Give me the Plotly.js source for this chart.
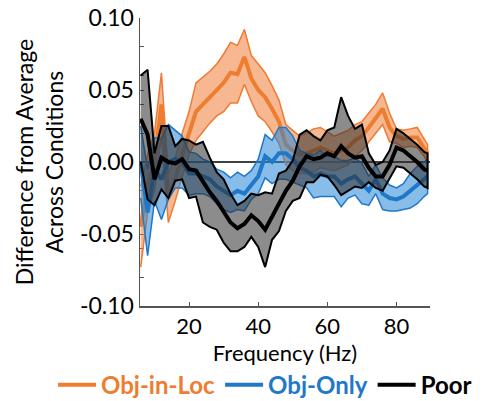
<!DOCTYPE html>
<html>
<head>
<meta charset="utf-8">
<script src="https://cdn.plot.ly/plotly-3.0.1.min.js"></script>
<style>
  html, body { margin: 0; padding: 0; background: #fff; }
  #chart { width: 499px; height: 401px; }
</style>
</head>
<body>
<div id="chart"></div>
<script>
// Frequency bins (Hz)
const freq = [6, 8, 10, 12, 14, 16, 18, 20, 22, 24, 26, 28, 30, 32, 34, 36, 38, 40, 42, 44,
              46, 48, 50, 52, 54, 56, 58, 60, 62, 64, 66, 68, 70, 72, 74, 76, 78, 80, 82, 84,
              86, 88, 89];

// Obj-in-Loc: mean difference and SEM
const objInLocMean = [-0.045, -0.015, 0.000, 0.040, -0.025, -0.012, 0.005, 0.020, 0.035, 0.040,
                      0.045, 0.050, 0.055, 0.062, 0.061, 0.073, 0.058, 0.050, 0.045, 0.037,
                      0.028, 0.012, 0.008, 0.005, 0.006, 0.008, 0.010, 0.008, 0.006, 0.008,
                      0.010, 0.015, 0.018, 0.024, 0.030, 0.037, 0.024, 0.018, 0.016, 0.017,
                      0.017, 0.010, 0.006];
const objInLocSem  = [0.028, 0.020, 0.020, 0.022, 0.017, 0.015, 0.015, 0.015, 0.020, 0.019,
                      0.018, 0.018, 0.020, 0.021, 0.020, 0.019, 0.016, 0.018, 0.017, 0.016,
                      0.015, 0.014, 0.014, 0.013, 0.014, 0.015, 0.014, 0.013, 0.012, 0.012,
                      0.012, 0.011, 0.010, 0.010, 0.010, 0.011, 0.010, 0.005, 0.006, 0.006,
                      0.007, 0.006, 0.006];

// Obj-Only: mean difference and SEM
const objOnlyMean = [0.000, -0.035, -0.005, -0.012, 0.000, 0.002, 0.000, -0.008, -0.008, -0.010,
                     -0.012, -0.017, -0.020, -0.023, -0.020, -0.022, -0.016, -0.010, 0.004, 0.000,
                     0.006, 0.006, 0.002, -0.004, -0.006, -0.010, -0.008, -0.010, -0.010, -0.015,
                     -0.012, -0.010, -0.015, -0.020, -0.012, -0.022, -0.025, -0.026, -0.024, -0.020,
                     -0.016, -0.012, -0.010];
const objOnlySem  = [0.025, 0.030, 0.022, 0.028, 0.026, 0.020, 0.018, 0.015, 0.014, 0.012,
                     0.012, 0.012, 0.013, 0.012, 0.013, 0.012, 0.010, 0.012, 0.015, 0.015,
                     0.018, 0.018, 0.016, 0.012, 0.012, 0.015, 0.016, 0.014, 0.014, 0.016,
                     0.013, 0.013, 0.014, 0.010, 0.010, 0.011, 0.009, 0.008, 0.009, 0.012,
                     0.013, 0.012, 0.012];

// Poor: mean difference and SEM
const poorMean = [0.030, 0.019, -0.012, 0.003, 0.000, -0.001, 0.002, -0.005, -0.006, -0.014,
                  -0.021, -0.027, -0.034, -0.042, -0.046, -0.043, -0.037, -0.041, -0.047, -0.038,
                  -0.028, -0.020, -0.013, -0.003, 0.004, 0.002, 0.003, 0.006, 0.004, 0.011,
                  0.006, 0.003, 0.004, -0.004, -0.010, -0.010, -0.002, 0.010, 0.008, 0.004,
                  0.000, -0.005, -0.006];
const poorSem  = [0.030, 0.045, 0.018, 0.022, 0.025, 0.012, 0.014, 0.020, 0.018, 0.028,
                  0.024, 0.020, 0.022, 0.020, 0.016, 0.016, 0.015, 0.018, 0.026, 0.016,
                  0.020, 0.014, 0.014, 0.022, 0.018, 0.016, 0.012, 0.016, 0.020, 0.034,
                  0.026, 0.020, 0.022, 0.010, 0.008, 0.010, 0.010, 0.013, 0.012, 0.012,
                  0.012, 0.012, 0.012];

// Axis ticks
const xTickVals = [20, 40, 60, 80];
const yTickVals = [-0.10, -0.08, -0.06, -0.05, -0.04, -0.02, 0.00, 0.02, 0.04, 0.05, 0.06, 0.08, 0.10];
const yTickText = ['-0.10', '', '', '-0.05', '', '', '0.00', '', '', '0.05', '', '', '0.10'];

const FONT = 'Lato, "Open Sans", sans-serif';

const series = [
  { name: 'Obj-in-Loc', mean: objInLocMean, sem: objInLocSem,
    line: '#ED7D31', edge: '#EF7A33', fill: 'rgba(240,125,55,0.55)', edgeWidth: 1.5 },
  { name: 'Obj-Only', mean: objOnlyMean, sem: objOnlySem,
    line: '#1F78C8', edge: '#1F78C8', fill: 'rgba(40,135,215,0.55)', edgeWidth: 1.5 },
  { name: 'Poor', mean: poorMean, sem: poorSem,
    line: '#000000', edge: '#000000', fill: 'rgba(45,45,45,0.55)', edgeWidth: 2 }
];

const traces = [];
series.forEach(s => {
  const upper = s.mean.map((m, i) => m + s.sem[i]);
  const lower = s.mean.map((m, i) => m - s.sem[i]);
  // shaded band: upper edge forward, lower edge back
  traces.push({
    type: 'scatter', mode: 'lines',
    x: freq.concat(freq.slice().reverse()),
    y: upper.concat(lower.slice().reverse()),
    fill: 'toself', fillcolor: s.fill,
    line: { color: s.edge, width: s.edgeWidth },
    hoverinfo: 'skip', showlegend: false
  });
  traces.push({
    type: 'scatter', mode: 'lines',
    x: freq, y: s.mean,
    name: '<b><span style="color:' + s.line + '">' + s.name + '</span></b>',
    line: { color: s.line, width: 4 }
  });
});

const layout = {
  width: 499, height: 401,
  margin: { l: 140, r: 69, t: 18, b: 95, autoexpand: false },
  paper_bgcolor: '#fff', plot_bgcolor: '#fff',
  font: { family: FONT, size: 23, color: '#000' },
  showlegend: true,
  legend: {
    orientation: 'h', x: -0.3, xanchor: 'left', y: -0.275, yanchor: 'middle',
    font: { family: FONT, size: 24 }, itemwidth: 38, tracegroupgap: 0,
    bgcolor: 'rgba(0,0,0,0)'
  },
  xaxis: {
    range: [5.8, 89.7], tickvals: xTickVals, ticks: 'inside', ticklen: 4, tickcolor: '#555',
    showline: true, linecolor: '#555', linewidth: 1.5, showgrid: false, zeroline: false,
    tickfont: { size: 22 }, automargin: true,
    title: { text: 'Frequency (Hz)', font: { size: 22 }, standoff: 6 },
    layer: 'below traces'
  },
  yaxis: {
    range: [-0.1, 0.1], tickvals: yTickVals, ticktext: yTickText,
    ticks: 'inside', ticklen: 4, tickcolor: '#555',
    showline: true, linecolor: '#555', linewidth: 1.5, showgrid: false, zeroline: false,
    tickfont: { size: 23 }, automargin: true,
    title: { text: 'Difference from Average<br>Across Conditions', font: { size: 23 }, standoff: 10 },
    layer: 'below traces'
  },
  shapes: [{
    type: 'line', xref: 'paper', x0: 0, x1: 1, yref: 'y', y0: 0, y1: 0,
    line: { color: '#000', width: 1.5 }, layer: 'below'
  }]
};

Plotly.newPlot('chart', traces, layout, { displayModeBar: false, staticPlot: true });
</script>
</body>
</html>
